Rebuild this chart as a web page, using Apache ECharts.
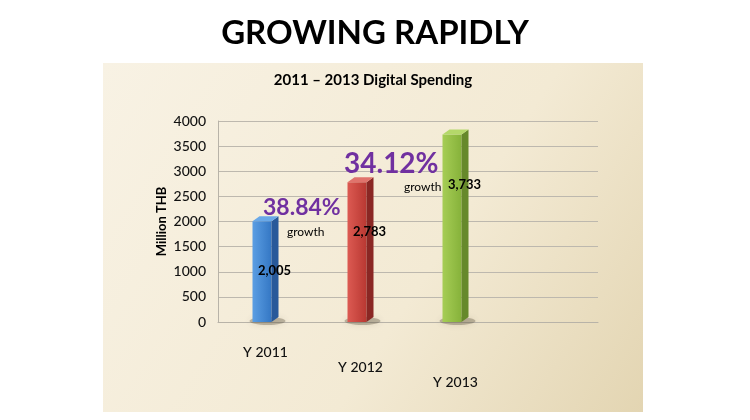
<!DOCTYPE html>
<html>
<head>
<meta charset="utf-8">
<script src="https://cdn.jsdelivr.net/npm/echarts@6/dist/echarts.min.js"></script>
<style>
html,body{margin:0;padding:0;background:#fff;}
#main{width:750px;height:420px;}
</style>
</head>
<body>
<div id="main"></div>
<script>
var categories = ['Y 2011', 'Y 2012', 'Y 2013'];
var spending = [2005, 2783, 3733];
var growthRates = ['38.84%', '34.12%'];
var yTicks = [0, 500, 1000, 1500, 2000, 2500, 3000, 3500, 4000];

var faceColors = [
  {front: ['#5b9ee3', '#3477c4'], side: '#28599a', top: '#6aa9e8'},
  {front: ['#dc5a52', '#b93832'], side: '#8a2724', top: '#e0736c'},
  {front: ['#a6cd55', '#86b23a'], side: '#66892b', top: '#b4d86a'}
];

var FONT = 'Lato, "Open Sans", sans-serif';
var chart = echarts.init(document.getElementById('main'));

function renderBar(params, api) {
  var idx = api.value(0);
  var val = api.value(1);
  var top = api.coord([idx, val]);
  var base = api.coord([idx, 0]);
  var w = 19, dx = 7, dy = 5;
  var x0 = top[0] - w / 2 - dx / 2;
  var c = faceColors[params.dataIndex % faceColors.length];
  return {
    type: 'group',
    children: [
      {type: 'ellipse', shape: {cx: top[0] + 2, cy: base[1] - 1, rx: 18, ry: 4},
       style: {fill: 'rgba(90,80,60,0.35)', shadowBlur: 6, shadowColor: 'rgba(90,80,60,0.4)'}},
      {type: 'rect', shape: {x: x0, y: top[1], width: w, height: base[1] - top[1]},
       style: {fill: new echarts.graphic.LinearGradient(0, 0, 1, 0, [{offset: 0, color: c.front[0]}, {offset: 1, color: c.front[1]}])}},
      {type: 'polygon', shape: {points: [[x0 + w, top[1]], [x0 + w + dx, top[1] - dy], [x0 + w + dx, base[1] - dy], [x0 + w, base[1]]]},
       style: {fill: c.side}},
      {type: 'polygon', shape: {points: [[x0, top[1]], [x0 + dx, top[1] - dy], [x0 + w + dx, top[1] - dy], [x0 + w, top[1]]]},
       style: {fill: c.top}},
      {type: 'text', x: top[0] + 9, y: top[1] + 50,
       style: {text: echarts.format.addCommas(val), fill: '#000', font: 'bold 13px ' + FONT, align: 'center', verticalAlign: 'middle'}}
    ]
  };
}

chart.setOption({
  backgroundColor: '#ffffff',
  animation: false,
  title: [
    {text: 'GROWING RAPIDLY', left: 'center', top: 12,
     textStyle: {fontFamily: FONT, fontWeight: 'bold', fontSize: 33, color: '#000'}},
    {text: '2011 \u2013 2013 Digital Spending', left: 368, textAlign: 'center', top: 68,
     textStyle: {fontFamily: FONT, fontWeight: 'bold', fontSize: 15, color: '#000'}}
  ],
  graphic: [
    {type: 'rect', z: -10, silent: true, shape: {x: 103, y: 63, width: 540, height: 349},
     style: {fill: new echarts.graphic.LinearGradient(0, 0, 1, 1, [{offset: 0, color: '#f8f2e4'}, {offset: 0.6, color: '#f3ead4'}, {offset: 1, color: '#e3d5b2'}])}},
    {type: 'text', left: 263, top: 196, z: 10,
     style: {text: growthRates[0], fill: '#7030a0', font: 'bold 23px ' + FONT}},
    {type: 'text', left: 287, top: 226, z: 10,
     style: {text: 'growth', fill: '#000', font: '12px ' + FONT}},
    {type: 'text', left: 344, top: 150, z: 10,
     style: {text: growthRates[1], fill: '#7030a0', font: 'bold 28px ' + FONT}},
    {type: 'text', left: 404, top: 181, z: 10,
     style: {text: 'growth', fill: '#000', font: '12px ' + FONT}}
  ],
  grid: {left: 218, top: 121, width: 380, height: 201},
  xAxis: {
    type: 'category',
    data: categories,
    max: 3,
    axisLine: {show: true, lineStyle: {color: '#b8b3a8'}},
    axisTick: {show: false},
    axisLabel: {
      margin: 23, lineHeight: 15, fontFamily: FONT, fontSize: 14, fontWeight: 500, color: '#111',
      interval: 0,
      formatter: function (v, i) { if (!v || v === 'undefined') return ''; var s = ''; for (var k = 0; k < i; k++) s += '\n'; return s + v; }
    }
  },
  yAxis: {
    type: 'value',
    min: yTicks[0], max: yTicks[yTicks.length - 1], interval: yTicks[1] - yTicks[0],
    name: 'Million THB', nameLocation: 'middle', nameGap: 50, nameRotate: 90, nameMoveOverlap: false,
    nameTextStyle: {fontFamily: FONT, fontWeight: 'bold', fontSize: 13, color: '#000'},
    axisLine: {show: true, lineStyle: {color: '#b8b3a8'}},
    axisTick: {show: false},
    axisLabel: {margin: 12, fontFamily: FONT, fontSize: 14, fontWeight: 500, color: '#111',
      formatter: function (v) { return String(v); }},
    splitLine: {show: true, lineStyle: {color: '#bdb8ae', width: 1}}
  },
  series: [{
    type: 'custom',
    renderItem: renderBar,
    encode: {x: 0, y: 1},
    data: categories.map(function (c, i) { return [i, spending[i]]; }),
    z: 5
  }]
});
</script>
</body>
</html>
